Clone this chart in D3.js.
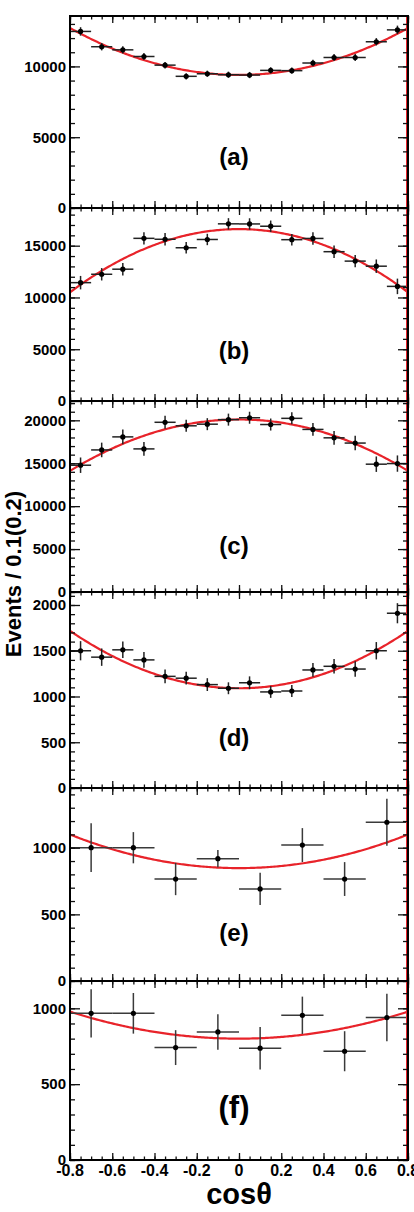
<!DOCTYPE html>
<html><head><meta charset="utf-8">
<script src="https://cdn.jsdelivr.net/npm/d3@7"></script>
<style>
body{margin:0;background:#fff}
svg{display:block}
text{font-family:"Liberation Sans",Arial,Helvetica,sans-serif;font-weight:bold;fill:#000}
</style>
</head><body>
<svg id="chart" width="414" height="1212"></svg>
<script>
// ---------------- data ----------------
const binCentersFine   = [-0.75,-0.65,-0.55,-0.45,-0.35,-0.25,-0.15,-0.05,0.05,0.15,0.25,0.35,0.45,0.55,0.65,0.75];
const binCentersCoarse = [-0.7,-0.5,-0.3,-0.1,0.1,0.3,0.5,0.7];
const binHalfWidths    = [0.05,0.05,0.05,0.05,0.1,0.1];

const valuesA = [12470,11390,11170,10700,10090,9300,9480,9410,9390,9720,9700,10240,10630,10630,11740,12580];
const errorsA = [300,260,250,250,230,220,220,220,220,220,220,230,250,250,260,300];
const valuesB = [11430,12240,12730,15710,15620,14800,15600,17110,17100,16880,15580,15700,14420,13510,13020,11070];
const errorsB = [650,600,600,600,600,550,550,550,550,550,550,600,600,600,650,750];
const valuesC = [14770,16550,18070,16670,19770,19360,19550,20080,20300,19510,20230,18940,17960,17350,14890,14960];
const errorsC = [900,850,850,800,750,700,700,700,700,700,700,750,800,850,900,950];
const valuesD = [1500,1430,1510,1400,1220,1200,1130,1090,1150,1050,1060,1290,1330,1300,1500,1910];
const errorsD = [105,95,90,85,75,70,70,65,70,65,65,75,80,85,95,110];
const valuesE = [1000,1000,765,918,691,1020,765,1191];
const errorsE = [183,117,121,64,121,127,127,177];
const valuesF = [967,967,741,844,737,954,717,939];
const errorsF = [159,134,115,117,140,123,132,157];

// fit: N * (1 + alpha * cos^2 theta)
const fitNorm  = [9400,16600,20100,1090,847,800];
const fitAlpha = [0.55,-0.574,-0.466,0.899,0.465,0.348];

const panelLabels = ["(a)","(b)","(c)","(d)","(e)","(f)"];
const yMax        = [13560,18640,22250,2142,1448,1180];
const yMajorTicks = [[0,5000,10000],[0,5000,10000,15000],[0,5000,10000,15000,20000],[0,500,1000,1500,2000],[0,500,1000],[0,500,1000]];
const yMinorStep  = [1000,1000,1000,100,100,100];
const xTickValues = [-0.8,-0.6,-0.4,-0.2,0,0.2,0.4,0.6,0.8];
const xTickLabels = ["-0.8","-0.6","-0.4","-0.2","0","0.2","0.4","0.6","0.8"];
const xTitle = "cos\u03b8";
const yTitle = "Events / 0.1(0.2)";

// ---------------- layout ----------------
const xLeft = 70, xRight = 408;
const panelTop    = [16,208,401,592,788,981];
const panelBottom = [208,401,592,788,981,1160];
const labelBaseline = [165,359,553.5,745.5,940.5,1118];
const labelSize = [24,24,24,24,24,31];

const series = [
  {x:binCentersFine, v:valuesA, e:errorsA},
  {x:binCentersFine, v:valuesB, e:errorsB},
  {x:binCentersFine, v:valuesC, e:errorsC},
  {x:binCentersFine, v:valuesD, e:errorsD},
  {x:binCentersCoarse, v:valuesE, e:errorsE},
  {x:binCentersCoarse, v:valuesF, e:errorsF}
];

const svg = d3.select("#chart");
const x = d3.scaleLinear().domain([-0.8,0.8]).range([xLeft,xRight]);
const xMinor = d3.range(-0.8,0.8001,0.05).map(d=>+d.toFixed(2));

series.forEach((s,i)=>{
  const y = d3.scaleLinear().domain([0,yMax[i]]).range([panelBottom[i],panelTop[i]]);
  const g = svg.append("g");
  const hw = binHalfWidths[i];
  const barColor = i<4 ? "#222" : "#3a3a3a";

  // fit curve
  const xs = d3.range(0,201).map(k=>-0.8+1.6*k/200);
  const line = d3.line().x(d=>x(d)).y(d=>y(fitNorm[i]*(1+fitAlpha[i]*d*d)));
  g.append("path").datum(xs).attr("d",line)
    .attr("fill","none").attr("stroke","#e8232a").attr("stroke-width",2.2);

  const pts = s.x.map((c,j)=>({c, v:s.v[j], e:s.e[j]}));
  g.selectAll(".hb").data(pts).join("line")
    .attr("x1",d=>x(d.c-hw)).attr("x2",d=>x(d.c+hw))
    .attr("y1",d=>y(d.v)).attr("y2",d=>y(d.v))
    .attr("stroke",barColor).attr("stroke-width",1.5);
  g.selectAll(".vb").data(pts).join("line")
    .attr("x1",d=>x(d.c)).attr("x2",d=>x(d.c))
    .attr("y1",d=>y(d.v-d.e)).attr("y2",d=>y(d.v+d.e))
    .attr("stroke",barColor).attr("stroke-width",1.5);
  g.selectAll(".pt").data(pts).join("circle")
    .attr("cx",d=>x(d.c)).attr("cy",d=>y(d.v)).attr("r",2.6).attr("fill","#000");

  // red pad edge on the right
  g.append("line").attr("x1",xRight-1.5).attr("x2",xRight-1.5)
    .attr("y1",panelTop[i]).attr("y2",panelBottom[i])
    .attr("stroke","#e8232a").attr("stroke-width",1);

  // y axes
  const minorVals = d3.range(0,yMax[i],yMinorStep[i]);
  const axL = d3.axisLeft(y).tickValues(yMajorTicks[i]).tickSize(-10).tickPadding(14).tickFormat(d3.format("d"));
  const gl = g.append("g").attr("transform",`translate(${xLeft},0)`).call(axL);
  gl.select(".domain").remove();
  gl.selectAll("text").attr("x",-4).attr("font-size",15).attr("font-family","Liberation Sans, Arial, sans-serif").attr("font-weight","bold").attr("fill","#222");
  const glm = g.append("g").attr("transform",`translate(${xLeft},0)`)
    .call(d3.axisLeft(y).tickValues(minorVals).tickSize(-5).tickFormat(""));
  glm.select(".domain").remove();
  const gr = g.append("g").attr("transform",`translate(${xRight},0)`)
    .call(d3.axisRight(y).tickValues(yMajorTicks[i]).tickSize(-10).tickFormat(""));
  gr.select(".domain").remove();
  const grm = g.append("g").attr("transform",`translate(${xRight},0)`)
    .call(d3.axisRight(y).tickValues(minorVals).tickSize(-5).tickFormat(""));
  grm.select(".domain").remove();

  // x axes top/bottom inward
  [[d3.axisTop, panelBottom[i]],[d3.axisBottom, panelTop[i]]].forEach(([fn,pos])=>{
    const a1 = g.append("g").attr("transform",`translate(0,${pos})`)
      .call(fn(x).tickValues(xTickValues).tickSize(7).tickFormat(""));
    a1.select(".domain").remove();
    const a2 = g.append("g").attr("transform",`translate(0,${pos})`)
      .call(fn(x).tickValues(xMinor).tickSize(3.5).tickFormat(""));
    a2.select(".domain").remove();
  });
  g.selectAll(".tick line").attr("stroke","#111").attr("stroke-width",1.3);

  // frame
  g.append("rect").attr("x",xLeft).attr("y",panelTop[i])
    .attr("width",xRight-xLeft).attr("height",panelBottom[i]-panelTop[i])
    .attr("fill","none").attr("stroke","#000").attr("stroke-width",2);

  // panel label
  g.append("text").attr("x",234).attr("y",labelBaseline[i])
    .attr("text-anchor","middle").attr("font-size",labelSize[i]).attr("fill","#222")
    .text(panelLabels[i]);

  if(i===5){
    g.selectAll(".xl").data(xTickValues).join("text")
      .attr("x",d=>x(d)).attr("y",1176).attr("text-anchor","middle")
      .attr("font-size",16).attr("fill","#222")
      .text((d,k)=>xTickLabels[k]);
  }
});

// axis titles
svg.append("text").attr("x",239).attr("y",1204).attr("text-anchor","middle")
  .attr("font-size",29).attr("fill","#111").text(xTitle);
svg.append("text").attr("transform","translate(21,574) rotate(-90)")
  .attr("text-anchor","middle").attr("font-size",22).attr("fill","#111").text(yTitle);
</script>
</body></html>
